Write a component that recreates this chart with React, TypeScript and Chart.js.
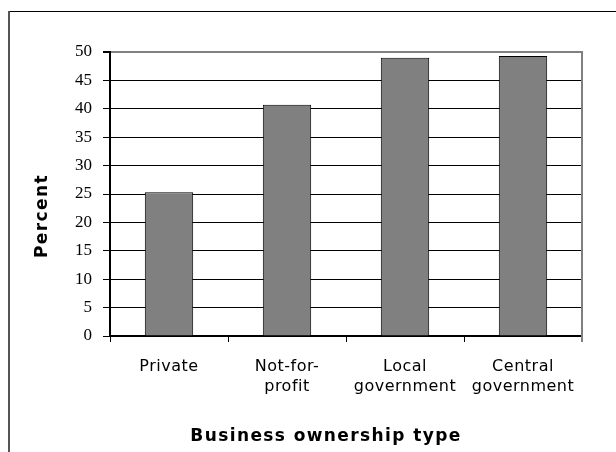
import React, { useEffect, useRef } from "react";
import { Chart, registerables } from "chart.js";

Chart.register(...registerables);

const categories: (string | string[])[] = [
  "Private",
  ["Not-for-", "profit"],
  ["Local", "government"],
  ["Central", "government"],
];
const percentValues: number[] = [25.3, 40.7, 49.0, 49.3];
const yMin = 0;
const yMax = 50;
const yStep = 5;
const xTitle = "Business ownership type";
const yTitle = "Percent";

const framePlugin = {
  id: "framePlugin",
  beforeDraw(chart: any) {
    const s = chart.scales.x;
    if (s && !s._lsPatched) {
      const orig = s.drawLabels.bind(s);
      s.drawLabels = (area: any) => {
        const ctx = chart.ctx;
        ctx.save();
        try {
          (ctx as any).letterSpacing = "0.5px";
        } catch (e) {}
        orig(area);
        ctx.restore();
      };
      s._lsPatched = true;
    }
  },
  afterDraw(chart: any) {
    const { ctx, chartArea } = chart;
    ctx.save();
    // outer frame
    ctx.fillStyle = "#000";
    ctx.fillRect(8, 11, 700, 1);
    ctx.fillStyle = "#555";
    ctx.fillRect(8, 11, 2, 500);
    // right plot border (gray)
    ctx.strokeStyle = "#808080";
    ctx.lineWidth = 2;
    ctx.beginPath();
    ctx.moveTo(chartArea.right, chartArea.top - 1);
    ctx.lineTo(chartArea.right, chartArea.bottom + 6);
    ctx.stroke();
    // axis titles
    ctx.fillStyle = "#000";
    ctx.textAlign = "center";
    ctx.textBaseline = "middle";
    try {
      (ctx as any).letterSpacing = "1.4px";
    } catch (e) {}
    ctx.font = "bold 17px 'DejaVu Sans'";
    ctx.fillText(xTitle, 326, 437);
    ctx.translate(43, 216);
    ctx.rotate(-Math.PI / 2);
    ctx.fillText(yTitle, 0, 0);
    ctx.restore();
  },
};

export default function App() {
  const canvasRef = useRef<HTMLCanvasElement | null>(null);

  useEffect(() => {
    if (!canvasRef.current) return;
    const chart = new Chart(canvasRef.current, {
      type: "bar",
      data: {
        labels: categories,
        datasets: [
          {
            data: percentValues,
            backgroundColor: "#808080",
            borderColor: "#000",
            borderWidth: 1,
            categoryPercentage: 1,
            barPercentage: 0.41,
          },
        ],
      },
      options: {
        responsive: false,
        animation: false,
        layout: { padding: { left: 0, top: 52, right: 34, bottom: 0 } },
        plugins: {
          legend: { display: false },
          tooltip: { enabled: false },
          title: { display: false },
        },
        scales: {
          x: {
            afterFit: (scale: any) => {
              scale.height = 116;
            },
            grid: {
              display: true,
              offset: true,
              drawOnChartArea: false,
              drawTicks: true,
              tickLength: 6,
              color: "#000",
              lineWidth: 1,
            },
            border: { display: true, color: "#000", width: 2 },
            ticks: {
              color: "#000",
              font: { family: "'DejaVu Sans'", size: 16, lineHeight: 1.3 },
              padding: 14,
              maxRotation: 0,
              autoSkip: false,
            },
          },
          y: {
            min: yMin,
            max: yMax,
            afterFit: (scale: any) => {
              scale.width = 110;
            },
            grid: {
              color: (c: any) => (c.tick && c.tick.value === yMax ? "#808080" : "#000"),
              lineWidth: (c: any) => (c.tick && c.tick.value === yMax ? 2 : 1),
              tickColor: "#000",
              tickLength: 7,
              drawTicks: true,
            },
            border: { display: true, color: "#000", width: 2 },
            ticks: {
              stepSize: yStep,
              color: "#000",
              font: { family: "'Liberation Serif'", size: 17 },
              padding: 11,
            },
          },
        },
      },
      plugins: [framePlugin],
    });
    return () => chart.destroy();
  }, []);

  return (
    <div style={{ position: "fixed", left: 0, top: 0, width: 616, height: 452, background: "#fff" }}>
      <canvas ref={canvasRef} width={616} height={452} style={{ width: 616, height: 452, display: "block" }} />
    </div>
  );
}
